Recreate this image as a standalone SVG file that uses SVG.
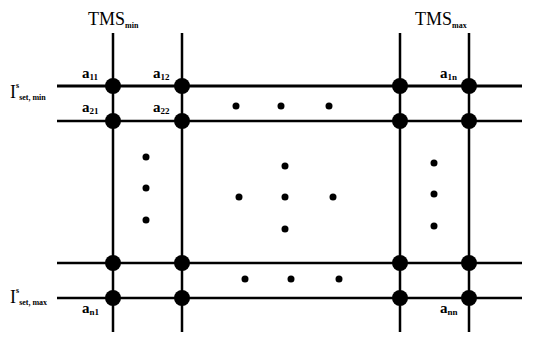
<svg xmlns="http://www.w3.org/2000/svg" width="533" height="351" viewBox="0 0 533 351">
<style>
.ln{stroke:#000;stroke-width:2.5;fill:none}
.t{font-family:"Liberation Serif","Times New Roman",serif;fill:#000}
.big{font-size:18px}
.a{font-size:15px;font-weight:bold}
.sub{font-size:8px;font-weight:bold}
.asub{font-size:9px;font-weight:bold}
.node{fill:#000}
.dot{fill:#000}
</style>
<rect width="533" height="351" fill="#fff"/>
<g id="connectors">
<line class="ln" x1="57" y1="86" x2="522" y2="86" style="stroke-width:3"/>
<line class="ln" x1="57" y1="121" x2="522" y2="121"/>
<line class="ln" x1="57" y1="263" x2="522" y2="263"/>
<line class="ln" x1="57" y1="298" x2="522" y2="298"/>
<line class="ln" x1="113" y1="33" x2="113" y2="332"/>
<line class="ln" x1="182" y1="33" x2="182" y2="332"/>
<line class="ln" x1="400" y1="33" x2="400" y2="332"/>
<line class="ln" x1="469" y1="33" x2="469" y2="332"/>
</g>
<g id="nodes">
<circle class="node" cx="113" cy="86" r="8"/>
<circle class="node" cx="182" cy="86" r="8"/>
<circle class="node" cx="400" cy="86" r="8"/>
<circle class="node" cx="469" cy="86" r="8"/>
<circle class="node" cx="113" cy="121" r="8"/>
<circle class="node" cx="182" cy="121" r="8"/>
<circle class="node" cx="400" cy="121" r="8"/>
<circle class="node" cx="469" cy="121" r="8"/>
<circle class="node" cx="113" cy="263" r="8"/>
<circle class="node" cx="182" cy="263" r="8"/>
<circle class="node" cx="400" cy="263" r="8"/>
<circle class="node" cx="469" cy="263" r="8"/>
<circle class="node" cx="113" cy="298" r="8"/>
<circle class="node" cx="182" cy="298" r="8"/>
<circle class="node" cx="400" cy="298" r="8"/>
<circle class="node" cx="469" cy="298" r="8"/>
</g>
<g id="ellipsis">
<circle class="dot" cx="236" cy="106" r="3.5"/>
<circle class="dot" cx="281" cy="106" r="3.5"/>
<circle class="dot" cx="329" cy="106" r="3.5"/>
<circle class="dot" cx="285" cy="166" r="3.5"/>
<circle class="dot" cx="239" cy="197" r="3.5"/>
<circle class="dot" cx="285" cy="197" r="3.5"/>
<circle class="dot" cx="333" cy="197" r="3.5"/>
<circle class="dot" cx="285" cy="229" r="3.5"/>
<circle class="dot" cx="245" cy="279" r="3.5"/>
<circle class="dot" cx="291" cy="279" r="3.5"/>
<circle class="dot" cx="339" cy="279" r="3.5"/>
<circle class="dot" cx="146" cy="157" r="3.5"/>
<circle class="dot" cx="146" cy="188" r="3.5"/>
<circle class="dot" cx="146" cy="220" r="3.5"/>
<circle class="dot" cx="434" cy="163" r="3.5"/>
<circle class="dot" cx="434" cy="194" r="3.5"/>
<circle class="dot" cx="434" cy="226" r="3.5"/>
</g>
<g id="labels">
<text class="t big" x="88" y="25">TMS<tspan class="sub" dy="3">min</tspan></text>
<text class="t big" x="415" y="25">TMS<tspan class="sub" dy="3">max</tspan></text>
<text class="t big" x="10" y="98">I<tspan class="sub" dy="-10">s</tspan><tspan class="sub" dy="12">set, min</tspan></text>
<text class="t big" x="10" y="303">I<tspan class="sub" dy="-10">s</tspan><tspan class="sub" dy="12">set, max</tspan></text>
<text class="t a" x="82" y="78">a<tspan class="asub" dy="2">11</tspan></text>
<text class="t a" x="153" y="78">a<tspan class="asub" dy="2">12</tspan></text>
<text class="t a" x="82" y="112">a<tspan class="asub" dy="2">21</tspan></text>
<text class="t a" x="153" y="112">a<tspan class="asub" dy="2">22</tspan></text>
<text class="t a" x="440" y="78">a<tspan class="asub" dy="2">1n</tspan></text>
<text class="t a" x="82" y="313">a<tspan class="asub" dy="2">n1</tspan></text>
<text class="t a" x="440" y="313">a<tspan class="asub" dy="2">nn</tspan></text>
</g>
</svg>
